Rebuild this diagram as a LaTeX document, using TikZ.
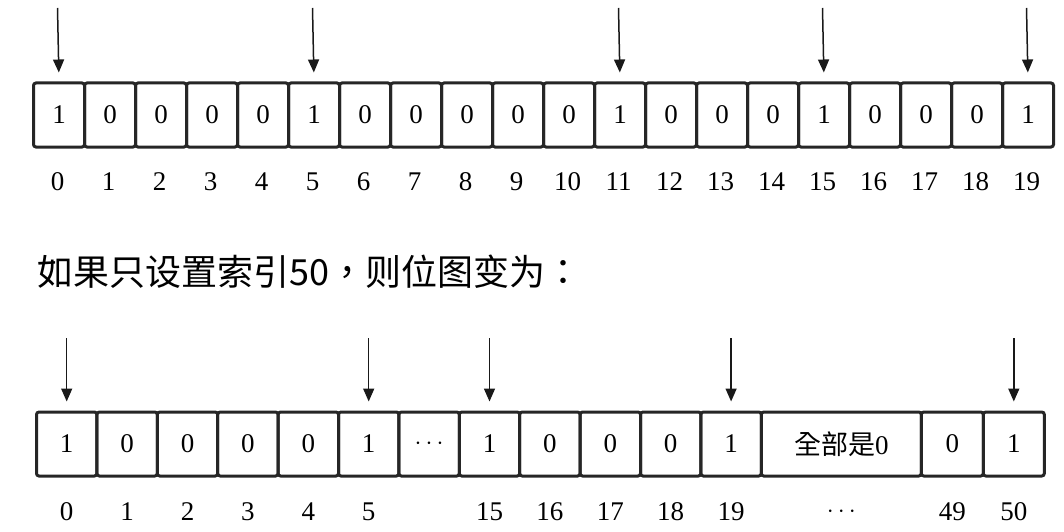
\documentclass[tikz,border=0pt]{standalone}
\usepackage{fontspec}
\setmainfont{Liberation Serif}
\newfontfamily\cjk{Noto Sans CJK TC}
\usetikzlibrary{arrows.meta}
\begin{document}
\begin{tikzpicture}[x=1pt,y=-1pt,
  cell/.style={draw=black!85, line width=3pt, rounded corners=2.5pt, minimum height=64pt,
    inner sep=0pt, anchor=west, font=\fontsize{27}{32}\selectfont},
  idx/.style={inner sep=0pt, font=\fontsize{27}{32}\selectfont},
  ptr/.style={-{Triangle[length=13pt,width=11pt]}, line width=1.5pt, draw=black!90, shorten >=9pt}]
\useasboundingbox (0,0) rectangle (1064,532);
% ---------- top row ----------
\foreach \i/\v in {0/1,1/0,2/0,3/0,4/0,5/1,6/0,7/0,8/0,9/0,10/0,11/1,12/0,13/0,14/0,15/1,16/0,17/0,18/0,19/1}{
  \node[cell, minimum width=51pt] (t\i) at ({32+51*\i},115) {\v};
  \node[idx] (tl\i) at ({57.5+51*\i},182) {\i};
}
\foreach \i in {0,5,11,15,19}{
  \coordinate (ta\i) at ({57.5+51*\i},8);
  \draw[ptr] (ta\i) -- (t\i.north);
}
% ---------- heading ----------
\node[anchor=west, inner sep=0pt, font=\cjk\fontsize{36}{40}\selectfont] (title) at (37,272)
  {如果只设置索引50，则位图变为：};
% ---------- bottom row ----------
\foreach \n/\x/\v in {0/35/1,1/95.4/0,2/155.8/0,3/216.2/0,4/276.6/0,5/337/1,d/397.4/{$\cdots$},
  15/457.8/1,16/518.2/0,17/578.6/0,18/639/0,19/699.4/1}{
  \node[cell, minimum width=60.4pt] (b\n) at (\x,444) {\v};
}
\node[cell, minimum width=160pt] (bz) at (759.8,444) {\fontsize{27}{30}\selectfont{\cjk 全部是}0};
\node[cell, minimum width=62pt] (b49) at (919.8,444) {0};
\node[cell, minimum width=61pt] (b50) at (981.8,444) {1};
\foreach \n in {0,1,2,3,4,5,15,16,17,18,19,49,50}{
  \node[idx] (bl\n) at (b\n.center |- 0,512) {\n};
}
\node[idx] (blz) at (bz.center |- 0,512) {$\cdots$};
\foreach \n in {0,5,15,19,50}{
  \coordinate (ba\n) at (b\n.center |- 0,338);
  \draw[ptr] (ba\n) -- (b\n.north);
}
\end{tikzpicture}
\end{document}
